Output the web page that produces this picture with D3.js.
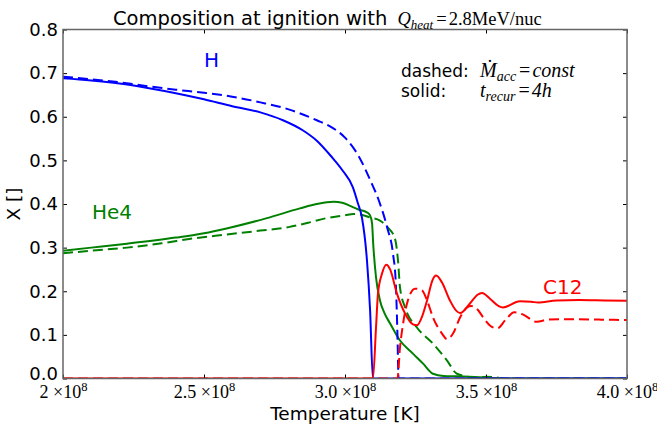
<!DOCTYPE html>
<html>
<head>
<meta charset="utf-8">
<script src="https://cdn.jsdelivr.net/npm/d3@7"></script>
<style>
  html, body { margin: 0; padding: 0; background: #fff; }
  svg { display: block; }
  .sans { font-family: "DejaVu Sans", sans-serif; }
  .math { font-family: "Liberation Serif", "DejaVu Serif", serif; }
</style>
</head>
<body>
<svg id="chart" width="657" height="424"></svg>
<script>
// Temperatures in units of 1e8 K, mass fractions X.
const hSolid = [[2.00,0.688],[2.10,0.683],[2.20,0.676],[2.30,0.666],[2.40,0.654],[2.50,0.640],[2.60,0.624],[2.70,0.610],[2.78,0.592],[2.85,0.569],[2.90,0.545],[2.95,0.510],[2.99,0.478],[3.028,0.438],[3.046,0.401],[3.060,0.369],[3.078,0.270],[3.089,0.156],[3.099,0.0],[3.2,0.0],[4.0,0.0]];
const hDashed = [[2.00,0.692],[2.10,0.686],[2.20,0.679],[2.30,0.670],[2.40,0.662],[2.50,0.655],[2.60,0.646],[2.70,0.633],[2.80,0.617],[2.90,0.592],[2.95,0.577],[3.00,0.552],[3.05,0.508],[3.09,0.454],[3.12,0.408],[3.15,0.345],[3.17,0.287],[3.18,0.220],[3.186,0.100],[3.19,0.0],[3.3,0.0],[4.0,0.0]];
const he4Solid = [[2.00,0.293],[2.10,0.300],[2.227,0.309],[2.40,0.323],[2.50,0.333],[2.58,0.344],[2.72,0.367],[2.84,0.390],[2.90,0.400],[2.96,0.405],[2.99,0.403],[3.02,0.395],[3.045,0.388],[3.078,0.381],[3.089,0.374],[3.096,0.355],[3.100,0.309],[3.110,0.232],[3.124,0.179],[3.14,0.150],[3.160,0.126],[3.195,0.087],[3.241,0.057],[3.277,0.034],[3.312,0.011],[3.35,0.006],[3.40,0.005],[3.51,0.002],[3.6,0.0],[4.0,0.0]];
const he4Dashed = [[2.00,0.287],[2.10,0.293],[2.227,0.300],[2.35,0.310],[2.46,0.321],[2.58,0.330],[2.70,0.339],[2.80,0.347],[2.87,0.357],[2.93,0.367],[3.00,0.374],[3.03,0.377],[3.06,0.375],[3.089,0.369],[3.124,0.362],[3.152,0.346],[3.177,0.321],[3.188,0.270],[3.195,0.209],[3.213,0.163],[3.255,0.117],[3.312,0.080],[3.362,0.041],[3.397,0.011],[3.468,0.002],[3.50,0.004],[3.53,0.003],[3.56,0.0],[4.0,0.0]];
const c12Solid = [[2.00,0.0],[3.099,0.0],[3.110,0.117],[3.117,0.195],[3.131,0.240],[3.147,0.261],[3.160,0.250],[3.184,0.195],[3.213,0.149],[3.241,0.124],[3.255,0.122],[3.275,0.145],[3.291,0.179],[3.310,0.225],[3.323,0.236],[3.344,0.220],[3.372,0.179],[3.395,0.155],[3.408,0.150],[3.443,0.172],[3.470,0.192],[3.486,0.196],[3.514,0.183],[3.545,0.166],[3.56,0.163],[3.62,0.177],[3.66,0.176],[3.684,0.174],[3.75,0.179],[3.83,0.180],[3.92,0.179],[4.00,0.178]];
const c12Dashed = [[2.00,0.0],[3.186,0.0],[3.195,0.071],[3.206,0.126],[3.223,0.179],[3.248,0.206],[3.273,0.202],[3.291,0.179],[3.312,0.140],[3.344,0.103],[3.362,0.090],[3.383,0.103],[3.408,0.140],[3.433,0.163],[3.448,0.166],[3.470,0.158],[3.49,0.140],[3.515,0.121],[3.54,0.115],[3.57,0.135],[3.60,0.152],[3.63,0.147],[3.68,0.130],[3.72,0.135],[3.80,0.136],[3.90,0.135],[4.00,0.134]];

const xTicks = [2.0, 2.5, 3.0, 3.5, 4.0];
const xTickMantissas = ["2", "2.5", "3.0", "3.5", "4.0"];
const yTicks = [0.0, 0.1, 0.2, 0.3, 0.4, 0.5, 0.6, 0.7, 0.8];

const series = [
  { data: he4Solid, color: "#008000", dashed: false },
  { data: he4Dashed, color: "#008000", dashed: true },
  { data: hSolid, color: "#0000ff", dashed: false },
  { data: hDashed, color: "#0000ff", dashed: true },
  { data: c12Dashed, color: "#ff0000", dashed: true },
  { data: c12Solid, color: "#ff0000", dashed: false }
];

const plotL = 63, plotR = 627, plotT = 29.5, plotB = 378.5;
const svg = d3.select("#chart");
const x = d3.scaleLinear().domain([2, 4]).range([plotL, plotR]);
const y = d3.scaleLinear().domain([0, 0.8]).range([plotB, plotT]);

svg.append("defs").append("clipPath").attr("id", "plotArea")
  .append("rect").attr("x", plotL).attr("y", plotT - 1)
  .attr("width", plotR - plotL).attr("height", plotB - plotT + 1);

// curves
const line = d3.line().x(d => x(d[0])).y(d => y(d[1])).curve(d3.curveMonotoneX);
const g = svg.append("g").attr("clip-path", "url(#plotArea)");
series.forEach(s => {
  g.append("path").datum(s.data)
    .attr("d", line)
    .attr("fill", "none")
    .attr("stroke", s.color)
    .attr("stroke-width", 2)
    .attr("stroke-dasharray", s.dashed ? "10,5" : null);
});

// axes with inward ticks on all four sides
const bottomAxis = d3.axisBottom(x).tickValues(xTicks).tickSize(-4).tickFormat(() => "");
const gb = svg.append("g").attr("transform", `translate(0,${plotB})`).call(bottomAxis);
gb.selectAll("text").remove();
gb.selectAll(".tick").append("text")
  .attr("class", "math")
  .attr("y", 19.5)
  .attr("text-anchor", "middle")
  .attr("fill", "#000")
  .attr("font-size", 18)
  .each(function(d, i) {
    const t = d3.select(this);
    t.append("tspan").text(xTickMantissas[i] + " \u00d710");
    t.append("tspan").attr("font-size", 12.5).attr("dy", -7).text("8");
  });
svg.append("g").attr("transform", `translate(0,${plotT})`)
  .call(d3.axisTop(x).tickValues(xTicks).tickSize(-4).tickFormat(""));
const gl = svg.append("g").attr("transform", `translate(${plotL},0)`)
  .call(d3.axisLeft(y).tickValues(yTicks).tickSize(-4).tickPadding(5).tickFormat(d3.format(".1f")));
gl.selectAll("text").attr("font-family", "DejaVu Sans").attr("font-size", 18).attr("fill", "#000");
gl.selectAll(".tick").filter(d => d === 0).select("text").attr("dy", "0.08em");
svg.append("g").attr("transform", `translate(${plotR},0)`)
  .call(d3.axisRight(y).tickValues(yTicks).tickSize(-4).tickFormat(""));
svg.selectAll(".domain").remove();
svg.selectAll(".tick line").attr("stroke", "#000");

svg.append("rect").attr("x", plotL).attr("y", plotT)
  .attr("width", plotR - plotL).attr("height", plotB - plotT)
  .attr("fill", "none").attr("stroke", "#666").attr("stroke-width", 1.5);

// axis labels
svg.append("text").attr("class", "sans").attr("x", 345).attr("y", 419.5)
  .attr("text-anchor", "middle").attr("font-size", 18.5).text("Temperature [K]");
svg.append("text").attr("class", "sans")
  .attr("transform", `translate(20,${(plotT + plotB) / 2}) rotate(-90)`)
  .attr("text-anchor", "middle").attr("font-size", 18.5).text("X []");

// title
const title = svg.append("text").attr("x", 113).attr("y", 25);
title.append("tspan").attr("class", "sans").attr("font-size", 19.5).text("Composition at ignition with ");
title.append("tspan").attr("class", "math").attr("font-style", "italic").attr("font-size", 18.5).attr("dx", 4).text("Q");
title.append("tspan").attr("class", "math").attr("font-style", "italic").attr("font-size", 13).attr("dy", 4).text("heat");
title.append("tspan").attr("class", "math").attr("font-size", 18.5).attr("dy", -4).attr("dx", 3).text("=");
title.append("tspan").attr("class", "math").attr("font-size", 18.5).attr("dx", 2).text("2.8MeV/nuc");

// series labels
svg.append("text").attr("class", "sans").attr("x", 204).attr("y", 67).attr("font-size", 20).attr("fill", "#0000ff").text("H");
svg.append("text").attr("class", "sans").attr("x", 92).attr("y", 219).attr("font-size", 20).attr("fill", "#008000").text("He4");
svg.append("text").attr("class", "sans").attr("x", 543).attr("y", 294).attr("font-size", 20).attr("fill", "#ff0000").text("C12");

// line-style note
const n1 = svg.append("text").attr("x", 401).attr("y", 77);
n1.append("tspan").attr("class", "sans").attr("font-size", 17).text("dashed:");
n1.append("tspan").attr("class", "math").attr("x", 480).attr("font-style", "italic").attr("font-size", 20).text("\u1E40");
n1.append("tspan").attr("class", "math").attr("font-style", "italic").attr("font-size", 14).attr("dy", 4).text("acc");
n1.append("tspan").attr("class", "math").attr("font-size", 20).attr("dy", -4).attr("dx", 3).text("=");
n1.append("tspan").attr("class", "math").attr("font-style", "italic").attr("font-size", 20).attr("dx", 2).text("const");

const n2 = svg.append("text").attr("x", 401).attr("y", 97);
n2.append("tspan").attr("class", "sans").attr("font-size", 17).text("solid:");
n2.append("tspan").attr("class", "math").attr("x", 480).attr("font-style", "italic").attr("font-size", 20).text("t");
n2.append("tspan").attr("class", "math").attr("font-style", "italic").attr("font-size", 14).attr("dy", 4).text("recur");
n2.append("tspan").attr("class", "math").attr("font-size", 20).attr("dy", -4).attr("dx", 3).text("=");
n2.append("tspan").attr("class", "math").attr("font-style", "italic").attr("font-size", 20).attr("dx", 2).text("4h");
</script>
</body>
</html>
